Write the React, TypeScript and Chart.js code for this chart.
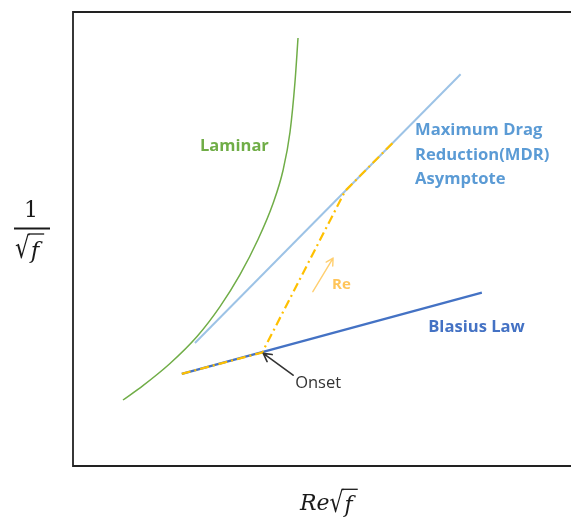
import React, { useEffect, useRef } from "react";
import { Chart, registerables } from "chart.js";

Chart.register(...registerables);

// Curves in plot units (x: 0–100 across, y: 0–100 up)
const laminarX = [9.88, 13.83, 19.17, 24.51, 29.05, 33.0, 36.56, 39.53, 41.5, 42.89, 43.87, 44.47];
const laminarY = [14.54, 17.71, 22.58, 28.52, 35.11, 42.16, 49.89, 57.82, 65.09, 73.57, 84.58, 94.27];

const mdrX = [24.1, 76.6];
const mdrY = [27.1, 86.3];

const blasiusX = [21.5, 80.8];
const blasiusY = [20.3, 38.2];

// Transition path: along Blasius to onset, climb to MDR, then along MDR
const transitionX = [21.5, 37.4, 53.8, 63.2];
const transitionY = [20.3, 25.0, 60.6, 71.2];

// Arrows: [tailX, tailY, headX, headY]
const onsetArrow = [43.5, 20.0, 37.6, 24.8];
const reArrow = [47.4, 38.4, 51.4, 45.8];

type Label = { text: string; x: number; y: number; color: string; bold: boolean; size: number };
const labels: Label[] = [
  { text: "Laminar", x: 25.1, y: 70.5, color: "#70AD47", bold: true, size: 16.5 },
  { text: "Maximum Drag", x: 67.6, y: 74.0, color: "#5B9BD5", bold: true, size: 16.6 },
  { text: "Reduction(MDR)", x: 67.6, y: 68.5, color: "#5B9BD5", bold: true, size: 16.6 },
  { text: "Asymptote", x: 67.6, y: 63.1, color: "#5B9BD5", bold: true, size: 16.6 },
  { text: "Blasius Law", x: 70.2, y: 30.6, color: "#4472C4", bold: true, size: 16.6 },
  { text: "Re", x: 51.2, y: 39.9, color: "#FFC55A", bold: true, size: 15 },
  { text: "Onset", x: 43.9, y: 18.3, color: "#333333", bold: false, size: 16.5 },
];

const toPoints = (xs: number[], ys: number[]) => xs.map((x, i) => ({ x, y: ys[i] }));

function drawArrow(ctx: CanvasRenderingContext2D, x1: number, y1: number, x2: number, y2: number, color: string, width: number, head: number) {
  const a = Math.atan2(y2 - y1, x2 - x1);
  ctx.save();
  ctx.strokeStyle = color;
  ctx.lineWidth = width;
  ctx.lineCap = "round";
  ctx.lineJoin = "round";
  ctx.beginPath();
  ctx.moveTo(x1, y1);
  ctx.lineTo(x2, y2);
  ctx.moveTo(x2 - head * Math.cos(a - 0.5), y2 - head * Math.sin(a - 0.5));
  ctx.lineTo(x2, y2);
  ctx.lineTo(x2 - head * Math.cos(a + 0.5), y2 - head * Math.sin(a + 0.5));
  ctx.stroke();
  ctx.restore();
}

// Radical sign (stretched vertically) followed by an italic symbol under a vinculum
function drawSqrt(ctx: CanvasRenderingContext2D, x: number, baseline: number, size: number, symbol: string, stretch: number) {
  ctx.save();
  ctx.font = `${size}px "DejaVu Serif", serif`;
  const rad = ctx.measureText("√");
  const asc = Number.isFinite(rad.actualBoundingBoxAscent) && rad.actualBoundingBoxAscent > 0
    ? rad.actualBoundingBoxAscent
    : size * 0.75;
  ctx.translate(x, baseline);
  ctx.scale(1, stretch);
  ctx.fillText("√", 0, 0);
  ctx.restore();
  const top = baseline - asc * stretch;
  const symX = x + rad.width + 1;
  ctx.font = `italic ${size}px "DejaVu Serif", serif`;
  const sym = ctx.measureText(symbol);
  ctx.fillText(symbol, symX, baseline);
  ctx.save();
  ctx.lineWidth = 1.3;
  ctx.beginPath();
  ctx.moveTo(x + rad.width - 1.2, top + 0.7);
  ctx.lineTo(symX + sym.width + 5, top + 0.7);
  ctx.stroke();
  ctx.restore();
}

const overlay = {
  id: "overlay",
  afterDatasetsDraw(chart: any) {
    const { ctx, chartArea, scales } = chart;
    const sx = (v: number) => scales.x.getPixelForValue(v);
    const sy = (v: number) => scales.y.getPixelForValue(v);

    // frame: left, top and bottom edges
    ctx.save();
    ctx.strokeStyle = "#222";
    ctx.lineWidth = 1.8;
    ctx.beginPath();
    ctx.moveTo(chartArea.right + 2, chartArea.top);
    ctx.lineTo(chartArea.left, chartArea.top);
    ctx.lineTo(chartArea.left, chartArea.bottom);
    ctx.lineTo(chartArea.right + 2, chartArea.bottom);
    ctx.stroke();
    ctx.restore();

    drawArrow(ctx, sx(onsetArrow[0]), sy(onsetArrow[1]), sx(onsetArrow[2]), sy(onsetArrow[3]), "#333", 1.6, 9);
    drawArrow(ctx, sx(reArrow[0]), sy(reArrow[1]), sx(reArrow[2]), sy(reArrow[3]), "#FFCF70", 1.4, 8);

    ctx.save();
    ctx.textBaseline = "middle";
    ctx.textAlign = "left";
    for (const l of labels) {
      ctx.font = `${l.bold ? "bold " : ""}${l.size}px "Open Sans", Lato, sans-serif`;
      ctx.fillStyle = l.color;
      ctx.fillText(l.text, sx(l.x), sy(l.y));
    }
    ctx.restore();

    // y-axis title: 1 / √f
    ctx.save();
    ctx.fillStyle = "#1a1a1a";
    ctx.strokeStyle = "#1a1a1a";
    ctx.textBaseline = "alphabetic";
    ctx.textAlign = "center";
    ctx.font = '22px "DejaVu Serif", serif';
    ctx.fillText("1", 23, 209);
    ctx.lineWidth = 1.8;
    ctx.beginPath();
    ctx.moveTo(6, 220.5);
    ctx.lineTo(42, 220.5);
    ctx.stroke();
    ctx.textAlign = "left";
    drawSqrt(ctx, 7, 250, 23, "f", 1.3);

    // x-axis title: Re√f
    ctx.font = 'italic 22px "DejaVu Serif", serif';
    ctx.fillText("Re", 292, 502);
    const reW = ctx.measureText("Re").width;
    drawSqrt(ctx, 292 + reW, 504, 22, "f", 1.3);
    ctx.restore();
  },
};

export default function App() {
  const ref = useRef<HTMLCanvasElement>(null);

  useEffect(() => {
    if (!ref.current) return;
    const chart = new Chart(ref.current, {
      type: "line",
      data: {
        datasets: [
          {
            label: "Transition",
            data: toPoints(transitionX, transitionY),
            borderColor: "#FFC000",
            borderWidth: 2.2,
            borderDash: [9, 4, 2, 4],
            pointRadius: 0,
            tension: 0,
          },
          {
            label: "Laminar",
            data: toPoints(laminarX, laminarY),
            borderColor: "#70AD47",
            borderWidth: 1.5,
            pointRadius: 0,
            cubicInterpolationMode: "monotone",
          },
          {
            label: "MDR",
            data: toPoints(mdrX, mdrY),
            borderColor: "#9DC3E6",
            borderWidth: 2,
            pointRadius: 0,
          },
          {
            label: "Blasius",
            data: toPoints(blasiusX, blasiusY),
            borderColor: "#4472C4",
            borderWidth: 2.4,
            pointRadius: 0,
          },
        ],
      },
      options: {
        animation: false,
        responsive: true,
        maintainAspectRatio: false,
        layout: { padding: { left: 65, top: 4, right: 0, bottom: 52 } },
        plugins: { legend: { display: false }, tooltip: { enabled: false } },
        scales: {
          x: { type: "linear", min: 0, max: 100, display: false },
          y: { type: "linear", min: 0, max: 100, display: false },
        },
      },
      plugins: [overlay],
    });
    return () => chart.destroy();
  }, []);

  return (
    <div style={{ width: 571, height: 510, position: "relative" }}>
      <canvas ref={ref} />
    </div>
  );
}
